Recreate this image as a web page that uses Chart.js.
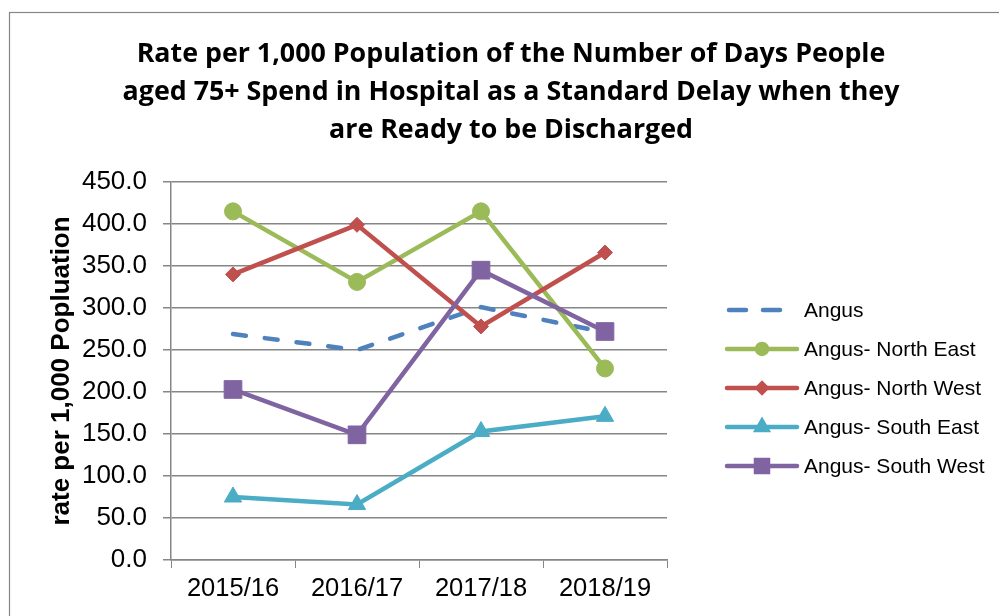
<!DOCTYPE html>
<html>
<head>
<meta charset="utf-8">
<script src="https://cdn.jsdelivr.net/npm/chart.js@4.4.1/dist/chart.umd.min.js"></script>
<style>
  html, body { margin: 0; padding: 0; background: #fff; }
</style>
</head>
<body>
<canvas id="delay_chart_canvas" width="999" height="616"></canvas>
<script>
// values
const years = ['2015/16', '2016/17', '2017/18', '2018/19'];
const angus = [269, 250, 301, 271];
const angus_north_east = [415, 331, 415, 228];
const angus_north_west = [340, 399, 278, 366];
const angus_south_east = [75, 66, 153, 171];
const angus_south_west = [203, 149, 345, 272];

const title_lines = [
  'Rate per 1,000 Population of the Number of Days People',
  'aged 75+ Spend in Hospital as a Standard Delay when they',
  'are Ready to be Discharged'
];
const y_axis_title = 'rate per 1,000 Popluation';

const GRID_GREY = '#868686';
const AXIS_FONT = 'Liberation Sans, Arial, sans-serif';

/**
 * Builds one line dataset in the office-chart look.
 */
function make_series(label, data, colour, point_style, radius, order) {
  return {
    label: label,
    data: data,
    borderColor: colour,
    backgroundColor: colour,
    pointBackgroundColor: colour,
    pointBorderColor: colour,
    borderWidth: 4.5,
    pointStyle: point_style,
    pointRadius: radius,
    pointBorderWidth: 1,
    tension: 0,
    order: order
  };
}

const datasets = [
  Object.assign(make_series('Angus', angus, '#4F81BD', false, 0, 5), {
    borderDash: [13, 19],
    borderCapStyle: 'round'
  }),
  make_series('Angus- North East', angus_north_east, '#9BBB59', 'circle', 8.5, 4),
  make_series('Angus- North West', angus_north_west, '#C0504D', 'rectRot', 7.5, 3),
  make_series('Angus- South East', angus_south_east, '#4BACC6', 'triangle', 10, 2),
  make_series('Angus- South West', angus_south_west, '#8064A2', 'rect', 12.5, 1)
];

// legend marker sizes are smaller than on the plot
const legend_marker_radius = { circle: 5, rectRot: 4.5, triangle: 6, rect: 8.5 };

const frame_and_legend = {
  id: 'frame_and_legend',
  beforeDraw(chart) {
    const ctx = chart.ctx;
    ctx.save();
    ctx.fillStyle = '#fff';
    ctx.fillRect(0, 0, chart.width, chart.height);
    ctx.strokeStyle = GRID_GREY;
    ctx.lineWidth = 1.2;
    ctx.strokeRect(9.5, 12.5, chart.width + 20, chart.height + 20);
    ctx.restore();
  },
  afterDraw(chart) {
    const ctx = chart.ctx;
    const area = chart.chartArea;
    const x0 = area.right + 60;
    const x1 = area.right + 130;
    ctx.save();
    chart.data.datasets.forEach((ds, i) => {
      const y = area.top + 128 + i * 39;
      ctx.strokeStyle = ds.borderColor;
      ctx.lineWidth = ds.borderWidth;
      ctx.lineCap = 'round';
      ctx.setLineDash(ds.borderDash ? [17, 17] : []);
      ctx.beginPath();
      ctx.moveTo(x0 + (ds.borderDash ? 2 : 0), y);
      ctx.lineTo(x1, y);
      ctx.stroke();
      ctx.setLineDash([]);
      if (ds.pointStyle) {
        ctx.fillStyle = ds.pointBackgroundColor;
        ctx.strokeStyle = ds.pointBorderColor;
        Chart.helpers.drawPoint(ctx, {
          pointStyle: ds.pointStyle,
          radius: legend_marker_radius[ds.pointStyle],
          rotation: 0,
          borderWidth: 1
        }, (x0 + x1) / 2, y);
      }
      ctx.fillStyle = '#000';
      ctx.font = '21px ' + AXIS_FONT;
      ctx.textBaseline = 'middle';
      ctx.textAlign = 'left';
      ctx.fillText(ds.label, x1 + 7, y + 1);
    });
    ctx.restore();
  }
};

new Chart(document.getElementById('delay_chart_canvas'), {
  type: 'line',
  data: { labels: years, datasets: datasets },
  plugins: [frame_and_legend],
  options: {
    responsive: false,
    animation: false,
    devicePixelRatio: 1,
    layout: { padding: { left: 23, right: 0, top: 0, bottom: 0 } },
    plugins: {
      legend: { display: false },
      tooltip: { enabled: false },
      title: {
        display: true,
        text: title_lines,
        color: '#000',
        font: { family: 'Open Sans', weight: 'bold', size: 26.8, lineHeight: 1.43 },
        padding: { top: 35, bottom: 32 }
      }
    },
    scales: {
      x: {
        offset: true,
        grid: { drawOnChartArea: false, color: GRID_GREY, tickLength: 8, offset: true },
        border: { color: GRID_GREY, width: 1.5 },
        ticks: { color: '#000', font: { family: AXIS_FONT, size: 25.5 }, padding: 6, maxRotation: 0 },
        afterFit: (scale) => { scale.height = 56; }
      },
      y: {
        min: 0,
        max: 450,
        grid: { color: GRID_GREY, lineWidth: 1.5, tickLength: 8 },
        border: { color: GRID_GREY, width: 1.5 },
        ticks: {
          stepSize: 50,
          color: '#000',
          padding: 16,
          font: { family: AXIS_FONT, size: 26 },
          callback: (v) => v.toFixed(1)
        },
        title: {
          display: true,
          text: y_axis_title,
          color: '#000',
          font: { family: AXIS_FONT, weight: 'bold', size: 26 },
          padding: { top: 23, bottom: 0 }
        },
        afterFit: (scale) => { scale.width = 148; }
      },
      legend_space: {
        type: 'linear',
        position: 'right',
        grid: { display: false },
        border: { display: false },
        ticks: { display: false },
        afterFit: (scale) => { scale.width = 332; }
      }
    }
  }
});
</script>
</body>
</html>
